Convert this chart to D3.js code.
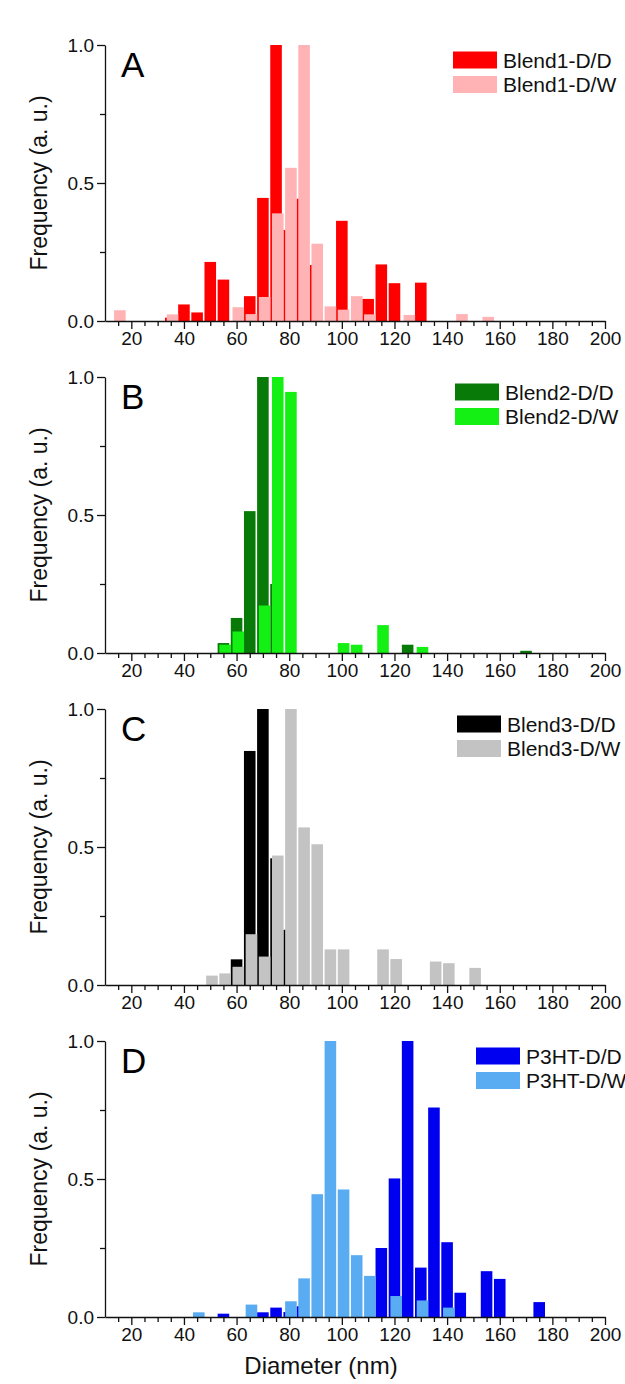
<!DOCTYPE html>
<html>
<head>
<meta charset="utf-8">
<script src="https://cdn.jsdelivr.net/npm/d3@7/dist/d3.min.js"></script>
<style>
  body { margin: 0; background: #fff; }
  text { font-family: "Liberation Sans", Arial, sans-serif; }
</style>
</head>
<body>
<div id="chart"></div>
<script>
// tick values
var xTicks = [20, 40, 60, 80, 100, 120, 140, 160, 180, 200];
var yTicks = [0.0, 0.5, 1.0];
var yMinor = [0.25, 0.75];

var panelLetters = ["A", "B", "C", "D"];
var seriesNames = [
  ["Blend1-D/D", "Blend1-D/W"],
  ["Blend2-D/D", "Blend2-D/W"],
  ["Blend3-D/D", "Blend3-D/W"],
  ["P3HT-D/D", "P3HT-D/W"]
];

// [diameter (nm), frequency]
var blend1_dd = [[35, 0.012], [40, 0.06], [45, 0.031], [50, 0.214], [55, 0.15], [65, 0.09],
  [70, 0.446], [75, 1.0], [80, 0.33], [85, 0.443], [90, 0.203], [100, 0.363],
  [110, 0.08], [115, 0.205], [120, 0.137], [130, 0.139]];
var blend1_dw = [[15, 0.039], [35, 0.024], [60, 0.05], [65, 0.025], [70, 0.087], [75, 0.39],
  [80, 0.555], [85, 1.0], [90, 0.28], [95, 0.053], [100, 0.041], [105, 0.09],
  [110, 0.024], [125, 0.022], [145, 0.025], [155, 0.015]];

var blend2_dd = [[55, 0.036], [60, 0.127], [65, 0.514], [70, 1.0], [75, 0.25], [125, 0.03], [170, 0.008]];
var blend2_dw = [[55, 0.03], [60, 0.078], [70, 0.172], [75, 1.0], [80, 0.946], [100, 0.036],
  [105, 0.03], [115, 0.101], [130, 0.022]];

var blend3_dd = [[60, 0.093], [65, 0.848], [70, 1.0], [75, 0.459], [80, 0.2]];
var blend3_dw = [[50, 0.034], [55, 0.042], [60, 0.066], [65, 0.184], [70, 0.103], [75, 0.469],
  [80, 1.0], [85, 0.571], [90, 0.51], [95, 0.129], [100, 0.129], [115, 0.129],
  [120, 0.094], [135, 0.085], [140, 0.079], [150, 0.062]];

var p3ht_dd = [[55, 0.012], [70, 0.017], [75, 0.034], [80, 0.018], [85, 0.039], [115, 0.25],
  [120, 0.502], [125, 1.0], [130, 0.179], [135, 0.759], [140, 0.271], [145, 0.088],
  [155, 0.166], [160, 0.138], [175, 0.054]];
var p3ht_dw = [[45, 0.017], [65, 0.045], [80, 0.057], [85, 0.14], [90, 0.445], [95, 1.0],
  [100, 0.462], [105, 0.224], [110, 0.149], [120, 0.076], [130, 0.06], [140, 0.034]];

var panelData = [[blend1_dd, blend1_dw], [blend2_dd, blend2_dw], [blend3_dd, blend3_dw], [p3ht_dd, p3ht_dw]];
var panelColors = [["#ff0000", "#ffb3b5"], ["#087a08", "#14f014"], ["#000000", "#c3c3c3"], ["#0000f0", "#5aacf2"]];
var legendX = [453, 455, 457, 476];

var W = 625, H = 1384;
var margin = { left: 105, top: 45 };
var plotW = 500, plotH = 276, panelStep = 332;
var binW = 4.4, dwShift = 0.65;

var svg = d3.select("#chart").append("svg")
  .attr("width", W)
  .attr("height", H);

var x = d3.scaleLinear().domain([10, 200]).range([0, plotW]);
var y = d3.scaleLinear().domain([0, 1]).range([plotH, 0]);

var xMinor = d3.range(15, 200, 5).filter(function (d) { return d % 20 !== 0; });

function drawPanel(i) {
  var g = svg.append("g")
    .attr("transform", "translate(" + margin.left + "," + (margin.top + i * panelStep) + ")");

  // bars: D/D first, D/W shifted a bit and drawn on top
  panelData[i].forEach(function (series, s) {
    g.append("g").selectAll("rect")
      .data(series)
      .enter()
      .append("rect")
      .attr("x", function (d) { return x(d[0] - binW / 2 + s * dwShift); })
      .attr("width", x(10 + binW) - x(10))
      .attr("y", function (d) { return y(d[1]); })
      .attr("height", function (d) { return y(0) - y(d[1]); })
      .attr("fill", panelColors[i][s]);
  });

  // minor ticks
  g.append("g")
    .attr("transform", "translate(0," + plotH + ")")
    .call(d3.axisBottom(x).tickValues(xMinor).tickSize(5).tickFormat(""))
    .call(function (a) { a.select(".domain").remove(); });
  g.append("g")
    .call(d3.axisLeft(y).tickValues(yMinor).tickSize(5).tickFormat(""))
    .call(function (a) { a.select(".domain").remove(); });

  // major axes
  var xAxis = g.append("g")
    .attr("transform", "translate(0," + plotH + ")")
    .call(d3.axisBottom(x).tickValues(xTicks).tickSize(8).tickSizeOuter(0).tickFormat(d3.format("d")));
  var yAxis = g.append("g")
    .call(d3.axisLeft(y).tickValues(yTicks).tickSize(8).tickSizeOuter(0).tickFormat(d3.format(".1f")));

  [xAxis, yAxis].forEach(function (a) {
    a.attr("font-size", 19);
    a.selectAll("text").attr("fill", "#111");
  });
  g.selectAll(".domain, .tick line").attr("stroke", "#111").attr("stroke-width", 1.3);

  // panel letter
  g.append("text")
    .attr("x", 16)
    .attr("y", 32)
    .attr("font-size", 35)
    .attr("fill", "#000")
    .text(panelLetters[i]);

  // legend
  var lg = svg.append("g")
    .attr("transform", "translate(" + legendX[i] + "," + (margin.top + i * panelStep) + ")");
  seriesNames[i].forEach(function (name, s) {
    lg.append("rect")
      .attr("x", 0)
      .attr("y", 6.5 + s * 24.5)
      .attr("width", 44)
      .attr("height", 17)
      .attr("fill", panelColors[i][s]);
    lg.append("text")
      .attr("x", 50)
      .attr("y", 22.5 + s * 24.5)
      .attr("font-size", 21)
      .attr("fill", "#111")
      .text(name);
  });

  // y title
  g.append("text")
    .attr("transform", "translate(" + (47 - margin.left) + "," + plotH / 2 + ") rotate(-90)")
    .attr("text-anchor", "middle")
    .attr("font-size", 23)
    .attr("fill", "#111")
    .text("Frequency (a. u.)");
}

for (var i = 0; i < 4; i++) {
  drawPanel(i);
}

svg.append("text")
  .attr("x", 321)
  .attr("y", 1374)
  .attr("text-anchor", "middle")
  .attr("font-size", 24)
  .attr("fill", "#111")
  .text("Diameter (nm)");
</script>
</body>
</html>
